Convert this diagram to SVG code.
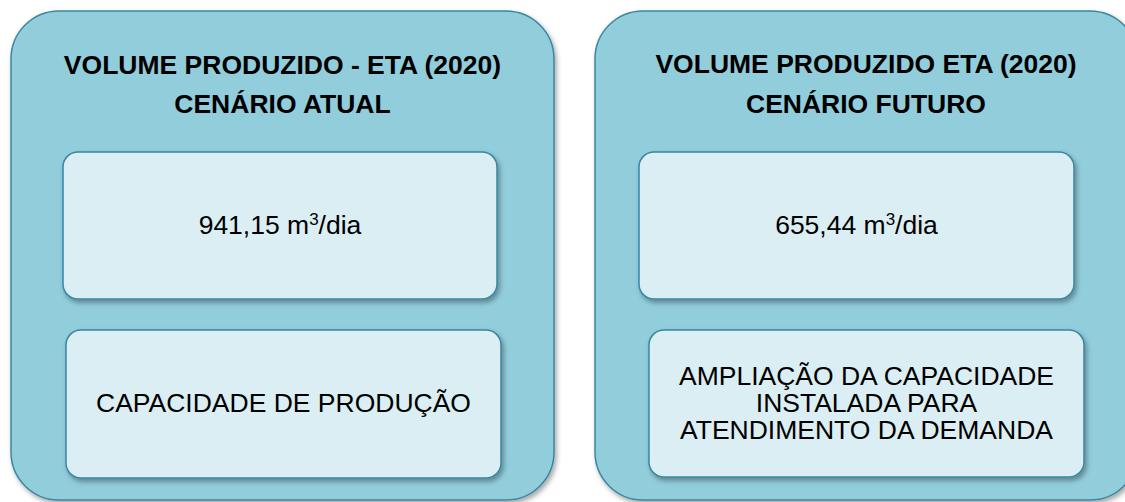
<svg xmlns="http://www.w3.org/2000/svg" width="1125" height="502" viewBox="0 0 1125 502">
<defs>
<filter id="sh" x="-10%" y="-10%" width="125%" height="125%">
<feDropShadow dx="2" dy="3" stdDeviation="2.5" flood-color="#000" flood-opacity="0.35"/>
</filter>
</defs>
<style>
.outer{fill:#92CDDC;stroke:#3A87A0;stroke-width:1.5;filter:url(#sh)}
.inner{fill:#DAEEF3;stroke:#3A87A0;stroke-width:1.5;filter:url(#sh)}
.t{font-family:"Liberation Sans",Arial,sans-serif;font-size:26.5px;fill:#000;text-anchor:middle}
.b{font-weight:bold}
</style>
<rect width="1125" height="502" fill="#fff"/>
<g id="cenario-atual">
<rect class="outer" x="11" y="11" width="543" height="489" rx="48"/>
<text class="t b" x="282.5" y="74">VOLUME PRODUZIDO - ETA (2020)</text>
<text class="t b" x="282.5" y="113">CENÁRIO ATUAL</text>
</g>
<g id="volume-atual">
<rect class="inner" x="63" y="152" width="434" height="147" rx="15"/>
<text class="t" x="280" y="234">941,15 m<tspan font-size="17" dy="-9">3</tspan><tspan dy="9">/dia</tspan></text>
</g>
<g id="capacidade-atual">
<rect class="inner" x="66" y="330" width="435" height="148" rx="15"/>
<text class="t" x="283.5" y="412">CAPACIDADE DE PRODUÇÃO</text>
</g>
<g id="cenario-futuro">
<rect class="outer" x="595" y="11" width="543" height="489" rx="48"/>
<text class="t b" x="866" y="73">VOLUME PRODUZIDO ETA (2020)</text>
<text class="t b" x="866" y="113">CENÁRIO FUTURO</text>
</g>
<g id="volume-futuro">
<rect class="inner" x="639" y="152" width="435" height="147" rx="15"/>
<text class="t" x="856.5" y="234">655,44 m<tspan font-size="17" dy="-9">3</tspan><tspan dy="9">/dia</tspan></text>
</g>
<g id="ampliacao-futuro">
<rect class="inner" x="649" y="330" width="435" height="147" rx="15"/>
<text class="t" x="866.5" y="385">AMPLIAÇÃO DA CAPACIDADE</text>
<text class="t" x="866.5" y="412">INSTALADA PARA</text>
<text class="t" x="866.5" y="439">ATENDIMENTO DA DEMANDA</text>
</g>
<g id="connectors"></g>
</svg>
